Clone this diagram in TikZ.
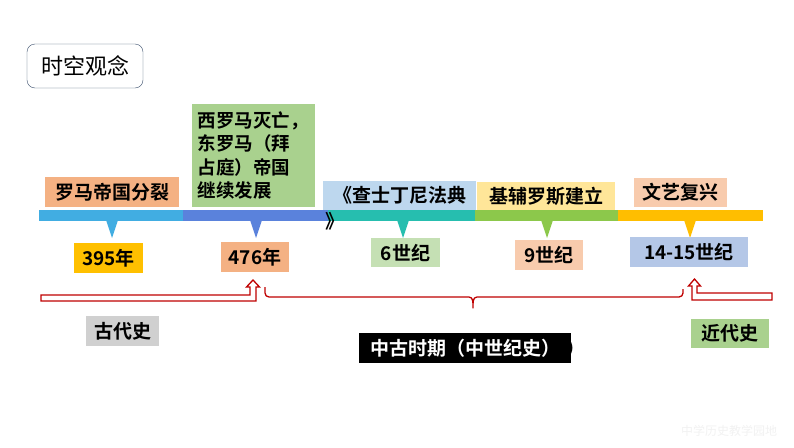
\documentclass[tikz,border=0pt]{standalone}
\usepackage{fontspec}
\setmainfont{Noto Sans CJK SC}[BoldFont={Noto Sans CJK SC Bold}]
\definecolor{barA}{RGB}{65,173,226}
\definecolor{barB}{RGB}{90,130,220}
\definecolor{barC}{RGB}{38,190,175}
\definecolor{barD}{RGB}{140,200,75}
\definecolor{barE}{RGB}{255,190,0}
\definecolor{boxOrange}{RGB}{244,177,131}
\definecolor{boxGreen}{RGB}{169,209,142}
\definecolor{boxBlue}{RGB}{189,215,238}
\definecolor{boxYellow}{RGB}{255,230,153}
\definecolor{boxPeach}{RGB}{248,203,173}
\definecolor{boxGold}{RGB}{255,192,0}
\definecolor{boxMint}{RGB}{197,224,180}
\definecolor{boxSteel}{RGB}{180,199,231}
\definecolor{boxGray}{RGB}{208,208,208}
\definecolor{darkRed}{RGB}{192,0,0}
\definecolor{frameBlue}{RGB}{60,80,110}

\begin{document}
\begin{tikzpicture}
        [
            x=1pt, y=-1pt,
            lbl/.style={rectangle, inner sep=0pt, text=black, font=\bfseries\fontsize{19}{23}\selectfont},
            redline/.style={draw=darkRed, line width=1.3pt, fill=white, line join=miter},
        ]
    \useasboundingbox (0,0) rectangle (794,447);
    \fill[white] (0,0) rectangle (794,447);

    % title
    \node[draw=frameBlue, thin, rounded corners=8pt, minimum width=116, minimum height=44,
          inner sep=0pt, font=\fontsize{22}{26}\selectfont] (title) at (85,66) {时空观念};

    % timeline bar and pointers
    \foreach \xa/\xb/\c in {39/183/barA, 183/328/barB, 328/475/barC, 475/618/barD, 618/763/barE}
        \fill[\c] (\xa,210) rectangle (\xb,221);
    \foreach \x/\c in {112/barA, 256/barB, 403/barC, 547/barD, 690/barE}
        \fill[\c] (\x-6,220) -- (\x+6,220) -- (\x,238) -- cycle;

    % events above the bar
    \node[lbl, fill=boxOrange, minimum width=134, minimum height=30] (split) at (112,192) {罗马帝国分裂};
    \node[lbl, fill=boxGreen, minimum width=123, minimum height=103, text width=112, align=left,
          font=\bfseries\fontsize{18.5}{23.3}\selectfont] (fall) at (253.5,155.5)
          {西罗马灭亡，\\东罗马（拜\\占庭）帝国\\继续发展};
    \node[lbl, fill=boxBlue, minimum width=153, minimum height=29] (code) at (399.5,195.5) {《查士丁尼法典};
    \node[lbl, anchor=west] (codeEnd) at (325,221) {》};
    \node[lbl, fill=boxYellow, minimum width=138, minimum height=28] (kiev) at (546,196) {基辅罗斯建立};
    \node[lbl, fill=boxPeach, minimum width=93, minimum height=29] (renai) at (680.5,192.5) {文艺复兴};

    % dates below the bar
    \node[lbl, fill=boxGold, minimum width=69, minimum height=30] (y395) at (108.5,258) {395年};
    \node[lbl, fill=boxOrange, minimum width=68, minimum height=30] (y476) at (255,257) {476年};
    \node[lbl, fill=boxMint, minimum width=69, minimum height=29] (c6) at (405.5,252.5) {6世纪};
    \node[lbl, fill=boxPeach, minimum width=68, minimum height=30] (c9) at (549,255) {9世纪};
    \node[lbl, fill=boxSteel, minimum width=118, minimum height=30] (c14) at (689,252) {14-15世纪};

    % periods
    \draw[redline] (41,295) -- (250,295) -- (250,287) -- (246.5,287) -- (253,280) -- (259.5,287)
        -- (256,287) -- (256,301) -- (41,301) -- cycle;
    \draw[redline, fill=none, line join=round]
        (265,287) -- (265,293) to[out=-90,in=180] (269,297) -- (469,297)
        to[out=0,in=90] (473,308) to[out=90,in=180] (477,297) -- (679,297)
        to[out=0,in=-90] (683,293) -- (683,289);
    \draw[redline] (772,293) -- (697,293) -- (697,286) -- (700.5,286) -- (694.5,279) -- (688.5,286)
        -- (692,286) -- (692,300) -- (772,300) -- cycle;

    \node[lbl, fill=boxGray, minimum width=73, minimum height=30] (ancient) at (122.5,331) {古代史};
    \node[lbl, anchor=west] (medEnd) at (566,348) {）};
    \node[lbl, fill=black, text=white, minimum width=212, minimum height=30] (medieval) at (465,348) {中古时期（中世纪史）};
    \node[lbl, fill=boxGreen, minimum width=78, minimum height=29] (modern) at (730,333.5) {近代史};

    % watermark
    \node[text=black!5, font=\fontsize{12}{14}\selectfont] (mark) at (729,431) {中学历史教学园地};
\end{tikzpicture}
\end{document}
